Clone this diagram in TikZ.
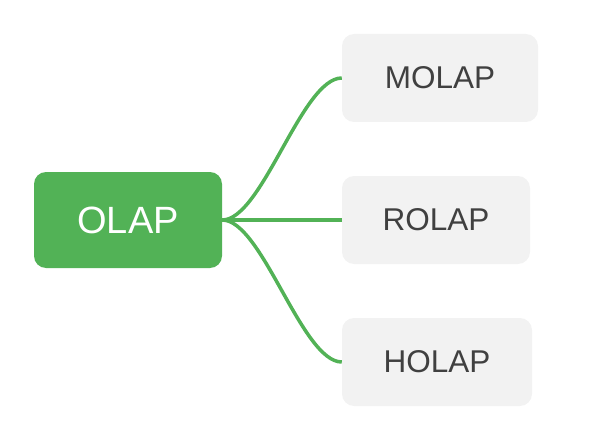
\documentclass[tikz,border=0pt]{standalone}
\usepackage{fontspec}
\setmainfont{Liberation Sans}
\definecolor{olapgreen}{HTML}{52B256}
\definecolor{leafgray}{HTML}{F2F2F2}
\definecolor{leaftext}{HTML}{404040}
\begin{document}
\begin{tikzpicture}[x=1pt,y=-1pt,
  rootbox/.style={rectangle,rounded corners=12pt,fill=olapgreen,text=white,
    inner sep=0pt,minimum width=188pt,minimum height=96pt,
    font=\fontsize{38}{38}\selectfont},
  leafbox/.style={rectangle,rounded corners=12pt,fill=leafgray,text=leaftext,
    inner sep=0pt,minimum height=88pt,
    font=\fontsize{31.5}{31.5}\selectfont},
  link/.style={draw=olapgreen,line width=3.5pt}]
\useasboundingbox (0,0) rectangle (598,436);
\node[rootbox] (olap) at (128,220) {OLAP};
\node[leafbox,minimum width=196pt] (molap) at (440,78) {MOLAP};
\node[leafbox,minimum width=188pt] (rolap) at (436,220) {ROLAP};
\node[leafbox,minimum width=190pt] (holap) at (437,362) {HOLAP};
\draw[link] (olap.east) .. controls +(40,0) and +(-40,0) .. (molap.west);
\draw[link] (olap.east) -- (rolap.west);
\draw[link] (olap.east) .. controls +(40,0) and +(-40,0) .. (holap.west);
\end{tikzpicture}
\end{document}
